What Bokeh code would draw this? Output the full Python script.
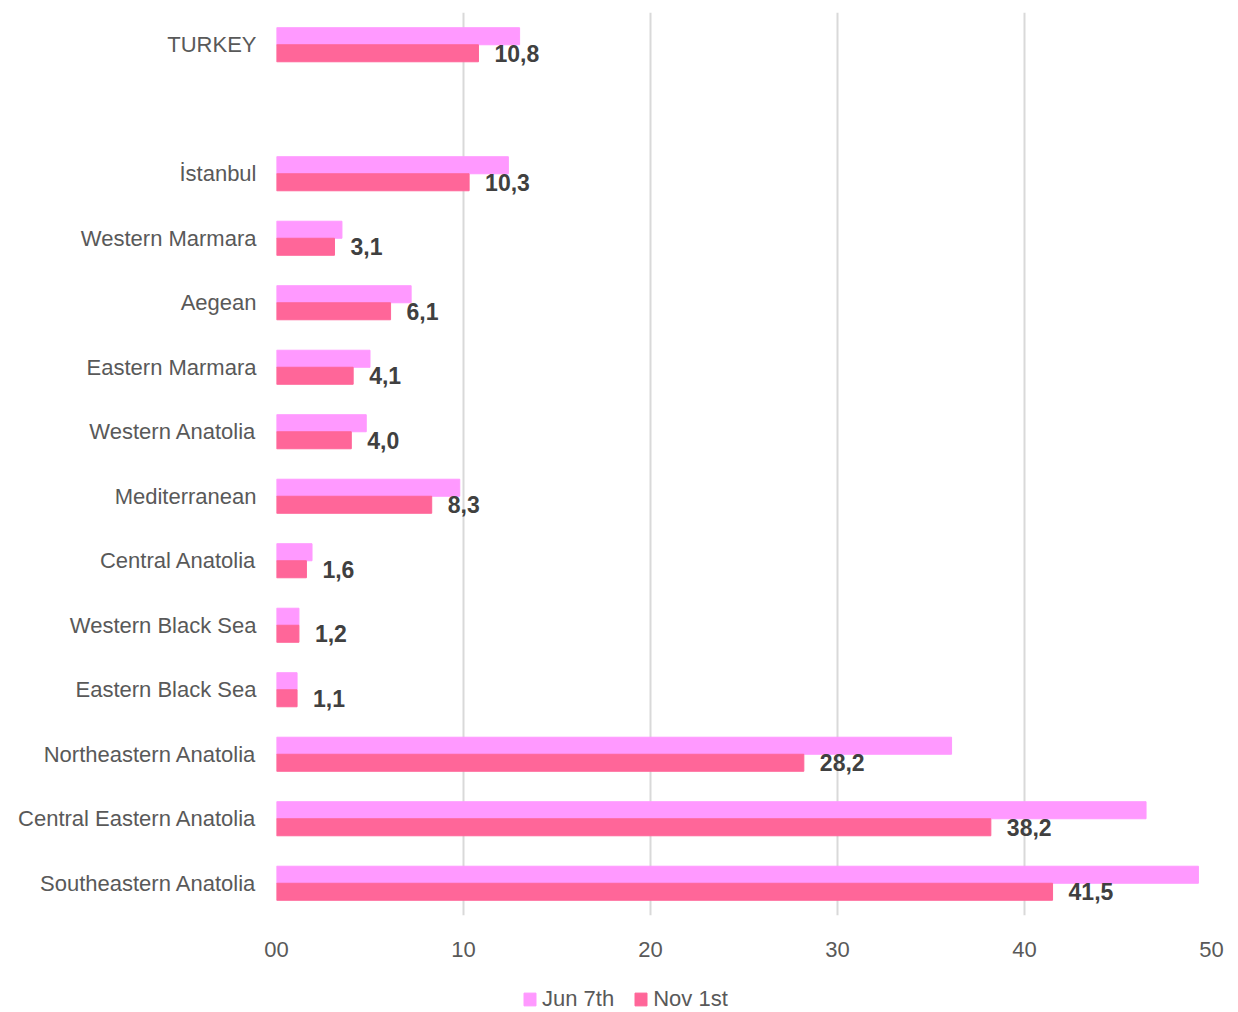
from bokeh.plotting import figure
from bokeh.layouts import column
from bokeh.models import FactorRange, ColumnDataSource, FixedTicker, Legend, LegendItem, Range1d
from bokeh.transform import dodge
from bokeh.core.properties import value
from bokeh.embed import file_html
from bokeh.resources import INLINE

regions = ["TURKEY", "İstanbul", "Western Marmara", "Aegean", "Eastern Marmara",
           "Western Anatolia", "Mediterranean", "Central Anatolia", "Western Black Sea",
           "Eastern Black Sea", "Northeastern Anatolia", "Central Eastern Anatolia",
           "Southeastern Anatolia"]
jun_7th = [13.0, 12.4, 3.5, 7.2, 5.0, 4.8, 9.8, 1.9, 1.2, 1.1, 36.1, 46.5, 49.3]
nov_1st = [10.8, 10.3, 3.1, 6.1, 4.1, 4.0, 8.3, 1.6, 1.2, 1.1, 28.2, 38.2, 41.5]
x_ticks = [0, 10, 20, 30, 40, 50]
x_tick_labels = ["00", "10", "20", "30", "40", "50"]
series_names = ["Jun 7th", "Nov 1st"]
series_colors = ["#FF99FF", "#FF6699"]

FONT = "Liberation Sans"
GRAY = "#595959"

factors = [regions[0], " "] + regions[1:]
factors = factors[::-1]

src = ColumnDataSource(dict(
    region=regions,
    jun=jun_7th,
    nov=nov_1st,
    lbl=[f"{v:.1f}".replace(".", ",") for v in nov_1st],
))

p = figure(width=1238, height=962, y_range=FactorRange(*factors),
           x_range=Range1d(0, 50), output_backend="svg", toolbar_location=None,
           min_border_left=276, min_border_right=27, min_border_top=12,
           min_border_bottom=47)
p.y_range.range_padding = 0
p.outline_line_color = None

p.hbar(y=dodge("region", 0.132, range=p.y_range), right="jun", left=0,
       height=0.264, color=series_colors[0], source=src)
p.hbar(y=dodge("region", -0.132, range=p.y_range), right="nov", left=0,
       height=0.264, color=series_colors[1], source=src)
p.text(x="nov", y=dodge("region", -0.132, range=p.y_range), text="lbl", source=src,
       x_offset=16, text_align="left", text_baseline="middle",
       text_font=value(FONT), text_font_style="bold", text_font_size="23px",
       text_color="#404040")

p.xaxis.ticker = FixedTicker(ticks=x_ticks)
p.xaxis.major_label_overrides = {t: l for t, l in zip(x_ticks, x_tick_labels)}
p.xaxis.axis_line_color = None
p.xaxis.major_tick_line_color = None
p.xaxis.minor_tick_line_color = None
p.xaxis.major_label_text_font = FONT
p.xaxis.major_label_text_font_size = "22px"
p.xaxis.major_label_text_color = GRAY
p.xaxis.major_label_standoff = 20

p.yaxis.axis_line_color = None
p.yaxis.major_tick_line_color = None
p.yaxis.minor_tick_line_color = None
p.yaxis.major_label_text_font = FONT
p.yaxis.major_label_text_font_size = "22px"
p.yaxis.major_label_text_color = GRAY
p.yaxis.major_label_standoff = 14

p.ygrid.grid_line_color = None
p.xgrid.ticker = FixedTicker(ticks=x_ticks)
p.xgrid.grid_line_color = "#D9D9D9"
p.xgrid.grid_line_width = 2

# legend strip below the chart (its frame is aligned with the main frame)
lp = figure(width=1238, height=50, x_range=Range1d(0, 1), y_range=Range1d(0, 1),
            output_backend="svg", toolbar_location=None,
            min_border_left=0, min_border_right=0, min_border_top=0, min_border_bottom=0)
lp.axis.visible = False
lp.grid.grid_line_color = None
lp.outline_line_color = None
items = []
for name, col in zip(series_names, series_colors):
    r = lp.hbar(y=[-5], right=[-5], left=[-6], height=0.5, color=col)
    items.append(LegendItem(label=name, renderers=[r]))
legend = Legend(items=items, orientation="horizontal", location=(246, 0),
                label_text_font=FONT, label_text_font_size="22px",
                label_text_color=GRAY, glyph_width=15, glyph_height=16,
                border_line_color=None, background_fill_alpha=0,
                spacing=19, label_standoff=5, padding=0, margin=0)
lp.add_layout(legend, "center")

open("out.html", "w").write(file_html(column(p, lp), INLINE))
